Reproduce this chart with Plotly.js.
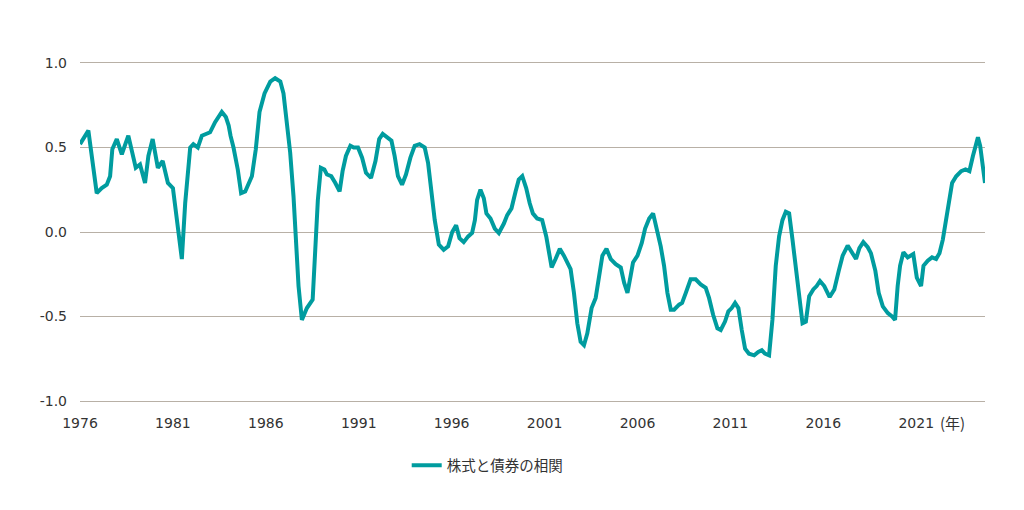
<!DOCTYPE html>
<html>
<head>
<meta charset="utf-8">
<script src="https://cdn.plot.ly/plotly-3.0.1.min.js"></script>
<style>html,body{margin:0;padding:0;background:#fff;}#chart{width:1024px;height:510px;}</style>
</head>
<body>
<div id="chart"></div>
<script>
const seriesName = '株式と債券の相関';
const years = [
1976.00,1976.45,1976.90,1977.17,1977.44,1977.62,1977.74,1977.98,1978.25,1978.60,
1979.00,1979.23,1979.50,1979.68,1979.91,1980.19,1980.45,1980.73,1981.00,1981.20,
1981.48,1981.66,1981.93,1982.10,1982.34,1982.56,1982.82,1983.00,1983.27,1983.63,
1983.85,1984.00,1984.10,1984.26,1984.49,1984.67,1984.89,1985.25,1985.46,1985.66,
1985.93,1986.24,1986.50,1986.78,1986.95,1987.13,1987.31,1987.49,1987.62,1987.76,
1987.94,1988.21,1988.52,1988.66,1988.80,1988.96,1989.15,1989.29,1989.52,1989.74,
1989.97,1990.13,1990.31,1990.55,1990.73,1990.96,1991.18,1991.39,1991.66,1991.90,
1992.10,1992.29,1992.52,1992.76,1992.93,1993.11,1993.33,1993.54,1993.78,1994.01,
1994.27,1994.55,1994.73,1994.91,1995.09,1995.31,1995.57,1995.81,1996.03,1996.24,
1996.42,1996.65,1996.89,1997.10,1997.25,1997.37,1997.55,1997.73,1997.87,1998.09,
1998.32,1998.54,1998.81,1998.99,1999.22,1999.44,1999.61,1999.80,2000.01,2000.20,
2000.37,2000.60,2000.87,2001.09,2001.23,2001.38,2001.59,2001.82,2002.04,2002.27,
2002.40,2002.58,2002.76,2002.94,2003.12,2003.30,2003.53,2003.75,2003.93,2004.11,
2004.33,2004.56,2004.83,2005.10,2005.28,2005.46,2005.63,2005.76,2006.00,2006.23,
2006.41,2006.63,2006.84,2007.07,2007.25,2007.43,2007.61,2007.79,2007.97,2008.24,
2008.40,2008.60,2008.86,2009.13,2009.40,2009.67,2009.85,2010.07,2010.30,2010.48,
2010.71,2010.89,2011.07,2011.25,2011.43,2011.61,2011.79,2012.00,2012.28,2012.50,
2012.69,2012.86,2013.08,2013.26,2013.44,2013.62,2013.80,2013.98,2014.16,2014.34,
2014.52,2014.70,2014.88,2015.06,2015.24,2015.46,2015.64,2015.82,2016.05,2016.34,
2016.59,2016.83,2017.04,2017.31,2017.55,2017.76,2017.94,2018.15,2018.39,2018.56,
2018.80,2018.98,2019.20,2019.47,2019.70,2019.86,2020.00,2020.13,2020.31,2020.54,
2020.84,2021.03,2021.26,2021.39,2021.62,2021.85,2022.07,2022.25,2022.43,2022.57,
2022.75,2022.93,2023.15,2023.42,2023.65,2023.86,2024.05,2024.32,2024.44,2024.59,
2024.70
];
const corr = [
0.52,0.60,0.23,0.26,0.28,0.33,0.49,0.55,0.46,0.57,
0.38,0.40,0.29,0.45,0.55,0.38,0.42,0.29,0.26,0.09,
-0.16,0.17,0.50,0.52,0.50,0.57,0.58,0.59,0.65,0.71,
0.68,0.63,0.57,0.50,0.37,0.23,0.24,0.33,0.49,0.71,
0.82,0.89,0.91,0.89,0.82,0.63,0.47,0.21,-0.07,-0.32,
-0.52,-0.45,-0.40,-0.085,0.19,0.38,0.37,0.34,0.33,0.29,
0.24,0.36,0.45,0.51,0.50,0.50,0.44,0.35,0.32,0.42,
0.55,0.58,0.56,0.54,0.45,0.33,0.28,0.34,0.44,0.51,
0.52,0.50,0.41,0.23,0.07,-0.075,-0.105,-0.085,0.00,0.04,
-0.036,-0.06,-0.026,-0.006,0.07,0.19,0.25,0.20,0.11,0.08,
0.02,-0.006,0.05,0.10,0.14,0.24,0.31,0.33,0.26,0.17,
0.11,0.08,0.07,-0.026,-0.12,-0.21,-0.16,-0.10,-0.14,-0.19,
-0.22,-0.36,-0.54,-0.65,-0.67,-0.60,-0.45,-0.39,-0.28,-0.14,
-0.10,-0.16,-0.19,-0.21,-0.30,-0.36,-0.26,-0.18,-0.14,-0.065,
0.02,0.08,0.11,0.01,-0.085,-0.20,-0.36,-0.46,-0.46,-0.43,
-0.42,-0.36,-0.28,-0.28,-0.31,-0.33,-0.39,-0.49,-0.57,-0.58,
-0.53,-0.47,-0.45,-0.42,-0.45,-0.58,-0.69,-0.72,-0.73,-0.71,
-0.70,-0.72,-0.73,-0.52,-0.20,-0.026,0.07,0.12,0.11,-0.045,
-0.20,-0.40,-0.54,-0.53,-0.38,-0.34,-0.32,-0.29,-0.32,-0.385,
-0.34,-0.23,-0.14,-0.08,-0.125,-0.16,-0.095,-0.06,-0.09,-0.125,
-0.23,-0.36,-0.44,-0.48,-0.50,-0.52,-0.32,-0.20,-0.12,-0.15,
-0.13,-0.27,-0.32,-0.20,-0.17,-0.15,-0.16,-0.125,-0.045,0.05,
0.19,0.29,0.33,0.36,0.37,0.36,0.45,0.56,0.51,0.39,
0.29
];
const xTickVals = [1976,1981,1986,1991,1996,2001,2006,2011,2016,2021];
const xTickText = ['1976','1981','1986','1991','1996','2001','2006','2011','2016','2021'];
const yTickVals = [-1.0,-0.5,0.0,0.5,1.0];
const yTickText = ['-1.0','-0.5','0.0','0.5','1.0'];
const yearUnit = '(年)';
const gridColor = '#b8b0a6';

const trace = {
  x: years, y: corr, type: 'scatter', mode: 'lines', name: seriesName,
  line: {color: '#009c9f', width: 4, shape: 'linear'}
};
const layout = {
  width: 1024, height: 510,
  margin: {l: 80, r: 39, t: 63, b: 109},
  paper_bgcolor: '#ffffff', plot_bgcolor: '#ffffff',
  font: {family: 'DejaVu Sans, Noto Sans CJK JP, sans-serif', size: 14, color: '#333333'},
  showlegend: true,
  legend: {orientation: 'h', x: 0.361, xanchor: 'left', y: -0.19, yanchor: 'middle',
    font: {family: 'Noto Sans CJK JP, sans-serif', size: 14.5, color: '#333333'}},
  xaxis: {range: [1976, 2024.7], tickmode: 'array', tickvals: xTickVals, ticktext: xTickText,
    showgrid: false, zeroline: false, showline: true, mirror: true, linecolor: gridColor, linewidth: 1,
    ticks: '', ticklabelstandoff: 9, fixedrange: true},
  yaxis: {range: [-1, 1], tickmode: 'array', tickvals: yTickVals, ticktext: yTickText,
    showgrid: true, gridcolor: gridColor, gridwidth: 1, zeroline: false, showline: false,
    ticks: '', ticklabelstandoff: 12, fixedrange: true},
  annotations: [{x: 2021, xref: 'x', xanchor: 'left', xshift: 22, y: -0.063, yref: 'paper',
    yanchor: 'middle', text: yearUnit, showarrow: false,
    font: {family: 'Noto Sans CJK JP, sans-serif', size: 15, color: '#333333'}}]
};
Plotly.newPlot('chart', [trace], layout, {displayModeBar: false, staticPlot: true});
</script>
</body>
</html>
